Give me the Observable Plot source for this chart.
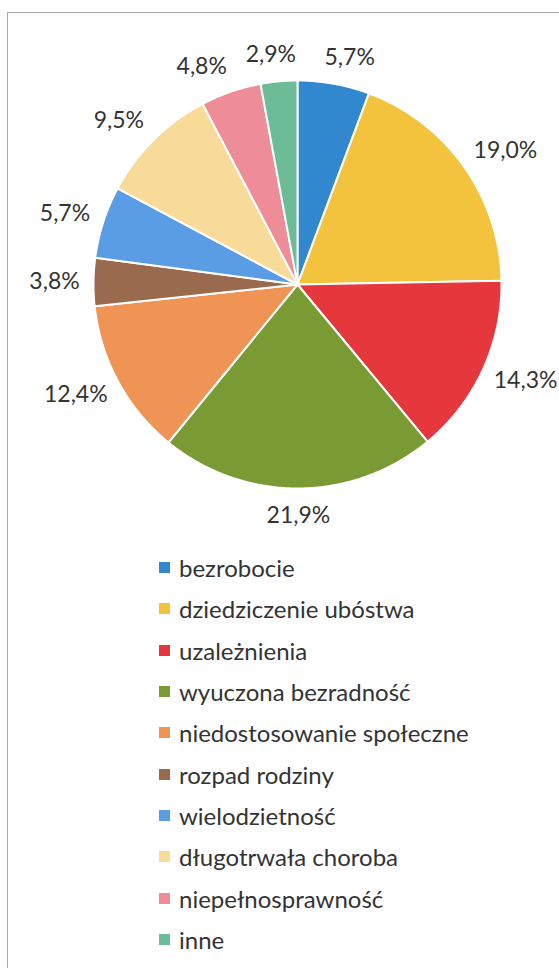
<!DOCTYPE html>
<html>
<head>
<meta charset="utf-8">
<script src="https://cdn.jsdelivr.net/npm/d3@7"></script>
<script src="https://cdn.jsdelivr.net/npm/@observablehq/plot@0.6"></script>
<style>
  html, body { margin: 0; padding: 0; background: #fff; }
  body { width: 559px; height: 968px; position: relative; overflow: hidden; font-family: Lato, sans-serif; }
  #frame { position: absolute; left: 7px; top: 12px; right: -10px; bottom: -10px; border-left: 1px solid #a8a8a8; border-top: 1px solid #a8a8a8; }
  #chart { position: absolute; left: 0; top: 0; }
  #leg { position: absolute; left: 159px; top: 547px; }
  #leg .lg-swatches { font: 24px Lato, sans-serif; color: #333; margin: 0; min-height: 0; }
  #leg .lg-swatch { height: 41.3px; padding: 0; margin: 0; display: flex; align-items: center; }
  #leg .lg-swatch > svg { margin-right: 9px; }
</style>
</head>
<body>
<div id="frame"></div>
<div id="chart"></div>
<div id="leg"></div>
<script>
const categories = ["bezrobocie", "dziedziczenie ubóstwa", "uzależnienia", "wyuczona bezradność", "niedostosowanie społeczne", "rozpad rodziny", "wielodzietność", "długotrwała choroba", "niepełnosprawność", "inne"];
const values = [5.7, 19.0, 14.3, 21.9, 12.4, 3.8, 5.7, 9.5, 4.8, 2.9];
const colors = ["#3288cf", "#f4c33e", "#e6373d", "#7a9a34", "#f09456", "#9a6a4f", "#5a9de4", "#f8db98", "#ee8c98", "#6cbc98"];

const R = 204; // pie radius in px
const total = d3.sum(values);
const slicePts = [];
const labels = [];
let acc = 0;
values.forEach((v, i) => {
  const a0 = acc / total * 2 * Math.PI;
  const a1 = (acc + v) / total * 2 * Math.PI;
  acc += v;
  slicePts.push({cat: categories[i], x: 0, y: 0});
  const n = Math.max(2, Math.ceil((a1 - a0) / (Math.PI / 360)));
  for (let k = 0; k <= n; k++) {
    const a = a0 + (a1 - a0) * k / n;
    slicePts.push({cat: categories[i], x: Math.sin(a), y: Math.cos(a)});
  }
  slicePts.push({cat: categories[i], x: 0, y: 0});
  const m = (a0 + a1) / 2, s = Math.sin(m), c = Math.cos(m);
  const txt = v.toFixed(1).replace(".", ",") + "%";
  const halfW = txt.length > 4 ? 30 : 25;
  const clamp = t => Math.max(-1, Math.min(1, t));
  labels.push({
    text: txt,
    x: s + (14 * s + halfW * clamp(3 * s)) / R,
    y: c + (27 * c) / R
  });
});

const plot = Plot.plot({
  width: 559,
  height: 540,
  marginLeft: 93,
  marginRight: 58,
  marginTop: 80,
  marginBottom: 52,
  x: {domain: [-1, 1], axis: null},
  y: {domain: [-1, 1], axis: null},
  color: {domain: categories, range: colors},
  style: {background: "transparent", overflow: "visible"},
  marks: [
    Plot.line(slicePts, {x: "x", y: "y", z: "cat", fill: "cat", stroke: "white", strokeWidth: 2, strokeLinejoin: "round", curve: "linear"}),
    Plot.text(labels, {x: "x", y: "y", text: "text", fontSize: 23, fontFamily: "Lato, sans-serif", fill: "#333"})
  ]
});
document.getElementById("chart").appendChild(plot);

const legend = Plot.legend({
  color: {type: "categorical", domain: categories, range: colors},
  legend: "swatches",
  columns: 1,
  swatchSize: 11,
  className: "lg"
});
document.getElementById("leg").appendChild(legend);
</script>
</body>
</html>
